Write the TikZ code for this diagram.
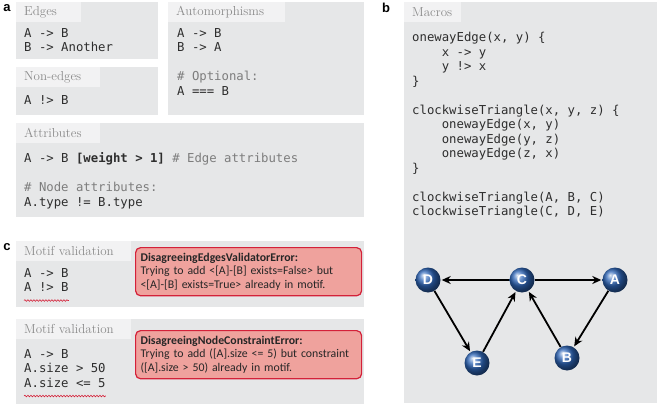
\documentclass[tikz,border=0pt]{standalone}
\usepackage{fontspec}
\setmonofont{DejaVu Sans Mono}
\newfontfamily\errfont{Carlito}
\newfontfamily\labfont{Liberation Sans}
\usetikzlibrary{arrows.meta,decorations.pathmorphing,positioning}

\definecolor{panelgray}{HTML}{E6E7E8}
\definecolor{tabgray}{HTML}{F2F2F3}
\definecolor{headgray}{HTML}{8A8A8A}
\definecolor{codeblack}{HTML}{2E2E2E}
\definecolor{commentgray}{HTML}{7D7D7D}
\definecolor{errfill}{HTML}{EFA29D}
\definecolor{errline}{HTML}{D42139}
\definecolor{nodeblue}{HTML}{2E66B8}

\newcommand{\codesize}{\fontsize{12.3}{14.5}\selectfont}
\newcommand{\codeindent}{\hspace*{4\fontcharwd\font`x}}

\begin{document}
\begin{tikzpicture}[x=1pt, y=-1pt]
    \tikzstyle{panel} = [rectangle, fill=panelgray, anchor=north west, inner sep=0pt]
    \tikzstyle{head} = [rectangle, fill=tabgray, anchor=north west, text=headgray, font=\fontsize{13}{14}\selectfont, inner xsep=8pt, inner ysep=0pt, minimum height=20pt, align=left]
    \tikzstyle{code} = [anchor=north west, inner sep=0pt, align=left, font=\ttfamily\codesize, text=codeblack, execute at begin node=\strut]
    \tikzstyle{err} = [rectangle, rounded corners=5pt, draw=errline, line width=1.2pt, fill=errfill, anchor=north west, text width=216pt, inner xsep=5pt, inner ysep=5.5pt, align=left, text=black!85, font=\errfont\fontsize{11.8}{13.5}\selectfont, execute at begin node=\hyphenpenalty10000\relax]
    \tikzstyle{plabel} = [font=\labfont\bfseries\fontsize{13}{13}\selectfont, inner sep=0pt]
    \tikzstyle{vertex} = [circle, shading=ball, ball color=nodeblue, text=white, font=\labfont\bfseries\fontsize{14}{14}\selectfont, minimum size=25pt, inner sep=0pt]
    \tikzstyle{link} = [-{Stealth[length=9pt,width=8pt]}, line width=1.8pt, black, shorten >=1pt]
    \tikzstyle{squiggle} = [errline, line width=0.6pt, decorate, decoration={snake, amplitude=0.8pt, segment length=3pt}]

    \fill[white] (0,0) rectangle (660,406);
    \useasboundingbox (0,0) rectangle (660,406);

    % panel a
    \node [plabel] (lbla) at (7,8) {a};
    \node [panel, minimum width=142pt, minimum height=57pt] (edges) at (16,2) {};
    \node [head, text width=49pt] (edgeshead) at (edges.north west) {Edges};
    \node [code] (edgescode) at (24,28.3) {A -> B\\B -> Another};

    \node [panel, minimum width=142pt, minimum height=48pt] (nonedges) at (16,67) {};
    \node [head, text width=68pt] (nonedgeshead) at (nonedges.north west) {Non-edges};
    \node [code] (nonedgescode) at (24,94.3) {A !> B};

    \node [panel, minimum width=196pt, minimum height=113pt] (autom) at (168,2) {};
    \node [head, text width=101pt] (automhead) at (autom.north west) {Automorphisms};
    \node [code] (automcode) at (177,28.3) {A -> B\\B -> A\\[14.5pt]\textcolor{commentgray}{\# Optional:}\\A === B};

    \node [panel, minimum width=348pt, minimum height=94pt] (attrib) at (16,123) {};
    \node [head, text width=68pt] (attribhead) at (attrib.north west) {Attributes};
    \node [code] (attribcode) at (24,152.3) {A -> B \textbf{[weight > 1]} \textcolor{commentgray}{\# Edge attributes}\\[14.5pt]\textcolor{commentgray}{\# Node attributes:}\\A.type != B.type};

    % panel c
    \node [plabel] (lblc) at (7,247) {c};
    \node [panel, minimum width=348pt, minimum height=66pt] (mvone) at (16,241) {};
    \node [head, text width=99pt] (mvonehead) at (mvone.north west) {Motif~validation};
    \node [code] (mvonecode) at (24,268.3) {A -> B\\A !> B};
    \node [err] (errone) at (135,247) {\textbf{DisagreeingEdgesValidatorError:}\\Trying to add <[A]-[B] exists=False> but\\<[A]-[B] exists=True> already in motif.};
    \draw [squiggle] ([yshift=-4pt]mvonecode.south west) -- ([yshift=-4pt]mvonecode.south east);

    \node [panel, minimum width=348pt, minimum height=85pt] (mvtwo) at (16,319) {};
    \node [head, text width=99pt] (mvtwohead) at (mvtwo.north west) {Motif~validation};
    \node [code] (mvtwocode) at (24,349.3) {A -> B\\A.size > 50\\A.size <= 5};
    \node [err] (errtwo) at (135,330) {\textbf{DisagreeingNodeConstraintError:}\\Trying to add ([A].size <= 5) but constraint\\([A].size > 50) already in motif.};
    \draw [squiggle] ([yshift=-4pt]mvtwocode.south west) -- ([yshift=-4pt]mvtwocode.south east);

    % panel b
    \node [plabel] (lblb) at (386,8) {b};
    \node [panel, minimum width=253pt, minimum height=401pt] (macros) at (404,2) {};
    \node [head, text width=41pt] (macroshead) at (macros.north west) {Macros};
    \node [code] (macroscode) at (412,32.3) {onewayEdge(x, y) \{\\
        \codeindent x -> y\\
        \codeindent y !> x\\
        \}\\[14.5pt]
        clockwiseTriangle(x, y, z) \{\\
        \codeindent onewayEdge(x, y)\\
        \codeindent onewayEdge(y, z)\\
        \codeindent onewayEdge(z, x)\\
        \}\\[14.5pt]
        clockwiseTriangle(A, B, C)\\
        clockwiseTriangle(C, D, E)};

    \node [vertex] (D) at (428,280) {D};
    \node [vertex] (C) at (522,280) {C};
    \node [vertex] (A) at (615,280) {A};
    \node [vertex] (E) at (477,363) {E};
    \node [vertex] (B) at (567,358) {B};

    \draw [link] (C) -- (D);
    \draw [link] (C) -- (A);
    \draw [link] (A) -- (B);
    \draw [link] (B) -- (C);
    \draw [link] (D) -- (E);
    \draw [link] (E) -- (C);
\end{tikzpicture}
\end{document}
